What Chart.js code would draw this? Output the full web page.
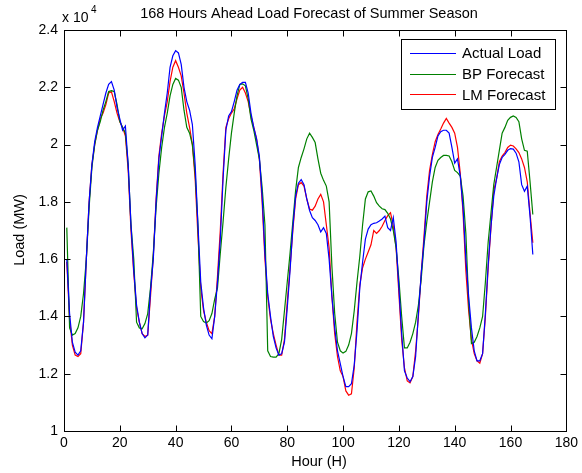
<!DOCTYPE html>
<html>
<head>
<meta charset="utf-8">
<script src="https://cdn.jsdelivr.net/npm/chart.js@4/dist/chart.umd.min.js"></script>
<style>
html,body{margin:0;padding:0;background:#fff;}
#c{display:block;}
</style>
</head>
<body>
<canvas id="c" width="582" height="473"></canvas>
<script>
// ---- data (load in units of 10^4 MW) ----
const hours = [];
for (let h = 1; h <= 168; h++) hours.push(h);

const actualLoad = [
 1.60,1.41,1.31,1.275,1.265,1.28,1.38,1.60,1.80,1.93,2.01,2.06,
 2.10,2.14,2.18,2.21,2.22,2.19,2.13,2.09,2.05,2.065,1.93,1.72,
 1.56,1.44,1.38,1.34,1.325,1.335,1.49,1.60,1.80,1.95,2.03,2.11,
 2.18,2.27,2.31,2.328,2.32,2.28,2.20,2.15,2.12,2.07,1.93,1.72,
 1.52,1.43,1.37,1.335,1.322,1.40,1.52,1.668,1.88,2.05,2.10,2.115,
 2.15,2.19,2.21,2.217,2.217,2.18,2.11,2.06,2.02,1.96,1.82,1.62,
 1.48,1.40,1.33,1.29,1.265,1.27,1.31,1.43,1.56,1.71,1.82,1.865,
 1.878,1.86,1.81,1.77,1.745,1.735,1.72,1.695,1.71,1.69,1.60,1.47,
 1.36,1.28,1.235,1.19,1.155,1.155,1.165,1.23,1.35,1.50,1.59,1.67,
 1.705,1.72,1.725,1.727,1.733,1.74,1.75,1.71,1.70,1.745,1.66,1.50,
 1.34,1.21,1.185,1.172,1.19,1.26,1.41,1.55,1.66,1.80,1.89,1.955,
 1.99,2.03,2.045,2.05,2.05,2.04,1.99,1.935,1.95,1.89,1.78,1.60,
 1.47,1.36,1.28,1.245,1.245,1.27,1.41,1.58,1.715,1.82,1.88,1.93,
 1.955,1.966,1.98,1.986,1.984,1.97,1.94,1.86,1.837,1.855,1.75,1.616
];
const bpForecast = [
 1.71,1.36,1.335,1.34,1.36,1.40,1.48,1.60,1.78,1.92,2.00,2.05,
 2.08,2.12,2.15,2.185,2.188,2.185,2.14,2.08,2.06,2.04,1.93,1.72,
 1.60,1.38,1.36,1.357,1.375,1.41,1.50,1.62,1.78,1.90,1.99,2.06,
 2.11,2.17,2.21,2.231,2.225,2.20,2.12,2.06,2.04,2.00,1.90,1.72,
 1.40,1.382,1.377,1.385,1.41,1.46,1.50,1.62,1.73,1.85,1.95,2.04,
 2.11,2.17,2.21,2.212,2.205,2.16,2.09,2.05,2.00,1.95,1.85,1.72,
 1.28,1.26,1.258,1.258,1.27,1.32,1.42,1.52,1.62,1.73,1.84,1.92,
 1.955,1.985,2.02,2.04,2.025,2.007,1.95,1.90,1.875,1.855,1.80,1.575,
 1.41,1.31,1.28,1.272,1.278,1.30,1.34,1.42,1.52,1.61,1.72,1.81,
 1.835,1.838,1.82,1.797,1.785,1.776,1.773,1.76,1.74,1.70,1.64,1.53,
 1.40,1.29,1.29,1.31,1.34,1.38,1.44,1.53,1.65,1.73,1.80,1.87,
 1.92,1.945,1.955,1.962,1.962,1.96,1.94,1.91,1.902,1.89,1.82,1.69,
 1.45,1.305,1.31,1.33,1.36,1.40,1.52,1.66,1.76,1.86,1.92,1.98,
 2.04,2.06,2.085,2.095,2.10,2.095,2.08,2.02,1.98,1.977,1.87,1.756
];
const lmForecast = [
 1.59,1.39,1.30,1.265,1.26,1.27,1.38,1.60,1.80,1.93,2.00,2.05,
 2.09,2.11,2.14,2.18,2.184,2.15,2.11,2.08,2.06,2.03,1.91,1.70,
 1.55,1.43,1.38,1.34,1.33,1.335,1.47,1.61,1.81,1.96,2.04,2.10,
 2.15,2.22,2.27,2.293,2.27,2.24,2.18,2.11,2.06,2.00,1.88,1.68,
 1.50,1.42,1.38,1.35,1.34,1.40,1.54,1.70,1.90,2.06,2.09,2.11,
 2.125,2.16,2.19,2.20,2.18,2.15,2.10,2.06,2.02,1.95,1.80,1.60,
 1.47,1.39,1.34,1.30,1.265,1.265,1.32,1.45,1.57,1.70,1.81,1.86,
 1.867,1.855,1.81,1.775,1.771,1.785,1.81,1.826,1.80,1.72,1.64,1.47,
 1.34,1.26,1.21,1.19,1.14,1.125,1.13,1.22,1.38,1.51,1.57,1.60,
 1.625,1.65,1.70,1.69,1.70,1.715,1.735,1.752,1.762,1.715,1.64,1.48,
 1.32,1.22,1.175,1.168,1.19,1.28,1.40,1.55,1.68,1.82,1.91,1.965,
 2.01,2.035,2.054,2.075,2.091,2.075,2.06,2.04,1.99,1.90,1.76,1.56,
 1.42,1.32,1.27,1.245,1.237,1.27,1.40,1.57,1.71,1.84,1.88,1.94,
 1.96,1.972,1.99,1.998,1.995,1.985,1.972,1.95,1.92,1.87,1.76,1.657
];
const xTicks = [0,20,40,60,80,100,120,140,160,180];
const yTicks = [1,1.2,1.4,1.6,1.8,2,2.2,2.4];
const seriesNames = ['Actual Load','BP Forecast','LM Forecast'];
const seriesColors = ['#0000ff','#008000','#ff0000'];

const FONT = '"Liberation Sans", Arial, Helvetica, sans-serif';

function pts(arr){ return hours.map((h,i)=>({x:h,y:arr[i]})); }

const decor = {
  id:'decor',
  afterDraw(chart){
    const ctx = chart.ctx, a = chart.chartArea;
    const xs = chart.scales.x, ys = chart.scales.y;
    ctx.save();
    ctx.strokeStyle = '#000'; ctx.lineWidth = 1;
    const L = Math.round(a.left)+0.5, R = Math.round(a.right)+0.5,
          T = Math.round(a.top)+0.5, B = Math.round(a.bottom)+0.5;
    ctx.strokeRect(L, T, R-L, B-T);
    const tl = 6;
    ctx.beginPath();
    xTicks.forEach(v=>{
      const p = Math.round(xs.getPixelForValue(v))+0.5;
      ctx.moveTo(p,B); ctx.lineTo(p,B-tl);
      ctx.moveTo(p,T); ctx.lineTo(p,T+tl);
    });
    yTicks.forEach(v=>{
      const p = Math.round(ys.getPixelForValue(v))+0.5;
      ctx.moveTo(L,p); ctx.lineTo(L+tl,p);
      ctx.moveTo(R,p); ctx.lineTo(R-tl,p);
    });
    ctx.stroke();

    ctx.fillStyle = '#000';
    // title
    ctx.font = '14.5px ' + FONT;
    ctx.textAlign = 'center'; ctx.textBaseline = 'middle';
    ctx.fillText('168 Hours Ahead Load Forecast of Summer Season', 309, 14);
    // exponent
    ctx.textAlign = 'left';
    ctx.font = '14px ' + FONT;
    ctx.fillText('x 10', 62, 18);
    ctx.font = '10px ' + FONT;
    ctx.fillText('4', 91, 10);
    // axis titles
    ctx.font = '14.5px ' + FONT;
    ctx.textAlign = 'center';
    ctx.fillText('Hour (H)', 319, 462);
    ctx.save();
    ctx.translate(20, 230);
    ctx.rotate(-Math.PI/2);
    ctx.fillText('Load (MW)', 0, 0);
    ctx.restore();

    // legend
    const bx = 401.5, by = 39.5, bw = 154, bh = 70;
    ctx.fillStyle = '#fff';
    ctx.fillRect(bx, by, bw, bh);
    ctx.strokeStyle = '#000';
    ctx.strokeRect(bx, by, bw, bh);
    ctx.font = '15px ' + FONT;
    ctx.textAlign = 'left';
    chart.data.datasets.forEach((ds,i)=>{
      const yy = 53 + i*20.7;
      ctx.strokeStyle = ds.borderColor;
      ctx.beginPath();
      ctx.moveTo(410, Math.round(yy)+0.5); ctx.lineTo(456, Math.round(yy)+0.5);
      ctx.stroke();
      ctx.fillStyle = '#000';
      ctx.fillText(ds.label, 462, yy+1);
    });
    ctx.restore();
  }
};

new Chart(document.getElementById('c'), {
  type:'line',
  data:{
    datasets:[
      {label:seriesNames[0], data:pts(actualLoad), borderColor:seriesColors[0]},
      {label:seriesNames[1], data:pts(bpForecast), borderColor:seriesColors[1]},
      {label:seriesNames[2], data:pts(lmForecast), borderColor:seriesColors[2]}
    ].map(d=>Object.assign(d,{borderWidth:1.2,pointRadius:0,fill:false,tension:0}))
  },
  options:{
    responsive:false, animation:false, devicePixelRatio:1,
    layout:{padding:{top:30, right:11, left:0, bottom:0}},
    plugins:{legend:{display:false}, title:{display:false}, tooltip:{enabled:false}},
    scales:{
      x:{type:'linear', min:0, max:180,
         grid:{display:false, drawTicks:false}, border:{display:false},
         afterBuildTicks(s){ s.ticks = xTicks.map(v=>({value:v})); },
         afterFit(s){ s.height = 42; },
         ticks:{color:'#000', font:{family:FONT, size:14}, padding:4, maxRotation:0, autoSkip:false,
                callback:v=>String(v)}},
      y:{type:'linear', min:1, max:2.4,
         grid:{display:false, drawTicks:false}, border:{display:false},
         afterBuildTicks(s){ s.ticks = yTicks.map(v=>({value:v})); },
         afterFit(s){ s.width = 64; },
         ticks:{color:'#000', font:{family:FONT, size:14}, padding:6, autoSkip:false,
                callback:v=>String(Math.round(v*10)/10)}}
    }
  },
  plugins:[decor]
});
</script>
</body>
</html>
